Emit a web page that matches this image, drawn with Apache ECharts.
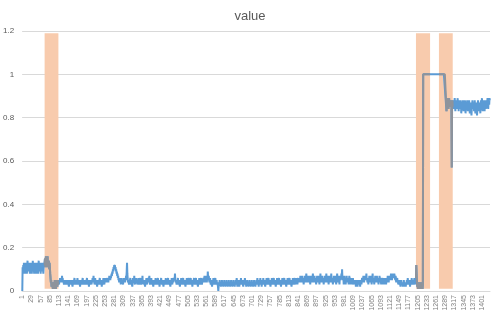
<!DOCTYPE html>
<html><head><meta charset="utf-8">
<script src="https://cdn.jsdelivr.net/npm/echarts@6/dist/echarts.min.js"></script>
<style>html,body{margin:0;padding:0;background:#fff}#c{width:500px;height:316px}</style>
</head><body><div id="c"></div>
<script>
// series values, one per category (category labels are 1..N)
const values = [
0,.11,.08,.12,.09,.13,.1,.12,.08,.11,.09,.13,.1,.12,.08,.11,.14,.09,.12,.1,
.13,.09,.11,.08,.12,.1,.13,.09,.11,.08,.12,.1,.14,.09,.11,.13,.08,.12,.1,.13,
.09,.11,.08,.12,.1,.13,.09,.12,.08,.11,.14,.1,.12,.09,.11,.13,.08,.12,.1,.11,
.09,.13,.1,.12,.08,.11,.13,.12,
.12,.15,.11,.14,.16,.12,.15,.11,.14,.16,.12,.14,
.11,.14,.1,.13,.11,.08,.06,.04,.05,.02,.04,.02,.03,.01,.04,
.02,.04,.01,.03,.05,.02,.04,.01,.03,.05,.02,.04,.02,.05,.03,.04,
.04,.03,.05,.04,.06,.04,.05,.04,.06,.05,.07,.05,.06,.04,.05,.04,.03,.05,.04,.04,
.03,.05,.04,.04,.03,.05,.04,.03,.05,.04,.04,.02,.04,.05,.03,.04,.05,.04,.03,.05,
.04,.04,.02,.04,.05,.03,.04,.04,.06,.04,.03,.05,.04,.03,.04,.05,.04,.06,.04,.03,
.04,.05,.03,.04,.04,.02,.04,.05,.04,.03,.05,.04,.04,.06,.04,.03,.04,.05,.03,.04,
.05,.04,.03,.05,.04,.04,.06,.04,.03,.04,.05,.04,.02,.04,.05,.04,.03,.05,.04,.04,
.03,.05,.04,.06,.04,.05,.07,.04,.05,.03,.04,.06,.04,.03,.05,.04,.04,.02,.04,.05,
.04,.03,.05,.04,.04,.06,.04,.03,.04,.05,.04,.02,.04,.05,.03,.04,.06,.04,.04,.03,
.05,.04,.06,.04,.05,.04,.06,.05,.04,.06,.05,.04,.06,.05,.07,.05,.06,.05,.07,.06,
.07,.08,.07,.09,.08,.1,.09,.11,.1,.12,.11,.12,.1,.11,.09,.1,.08,.09,.07,.08,
.06,.07,.05,.06,.04,.05,.06,.04,.05,.03,.05,.04,.06,.04,.05,.04,.03,.05,.04,.06,
.04,.05,.04,.06,.05,.07,.06,.09,.13,.08,.06,.04,.05,.04,.03,.05,.04,.04,.06,.04,
.03,.05,.04,.04,.02,.04,.06,.04,.05,.04,.07,.04,.03,.05,.04,.04,.06,.04,.05,.03,
.04,.05,.04,.06,.04,.03,.05,.04,.04,.06,.04,.03,.04,.05,.04,.07,.04,.05,.03,.04,
.05,.04,.04,.02,.04,.05,.04,.06,.04,.03,.05,.04,.04,.06,.04,.05,.07,.04,.03,.05,
.04,.04,.06,.04,.03,.05,.04,.04,.02,.04,.05,.04,.03,.05,.04,.06,.04,.04,.03,.05,
.04,.04,.06,.04,.03,.05,.04,.02,.04,.05,.04,.04,.06,.04,.03,.04,.05,.04,.04,.02,
.04,.05,.04,.03,.05,.04,.06,.04,.04,.03,.05,.04,.04,.06,.04,.03,.04,.05,.04,.04,
.02,.04,.05,.04,.06,.04,.03,.05,.04,.04,.06,.05,.06,.05,.08,.05,.04,.05,.04,.03,
.05,.04,.04,.06,.04,.03,.05,.04,.04,.02,.04,.05,.04,.06,.04,.03,.05,.04,.04,.06,
.04,.03,.04,.05,.04,.04,.02,.04,.05,.04,.06,.04,.03,.05,.04,.04,.06,.04,.03,.05,
.04,.04,.06,.04,.03,.05,.04,.02,.04,.05,.04,.04,.06,.04,.03,.05,.04,.04,.06,.04,
.03,.05,.04,.04,.02,.04,.05,.04,.06,.04,.03,.05,.04,.04,.06,.04,.03,.04,.05,.04,
.04,.06,.04,.05,.07,.05,.04,.06,.05,.07,.05,.04,.06,.05,.09,.06,.05,.07,.05,.04,
.04,.06,.04,.03,.05,.04,.04,.02,.04,.05,.04,.06,.04,.03,.05,.04,.04,.06,.04,.03,
.04,.05,.03,.04,.04,.02,0,.02,.04,.03,.05,.03,.04,.04,.02,.04,.03,.05,.03,.04,
.04,.02,.04,.03,.05,.03,.04,.04,.02,.04,.03,.05,.03,.04,.04,.02,.04,.03,.05,.03,
.04,.04,.02,.04,.03,.05,.03,.04,.04,.02,.04,.03,.05,.03,.04,.04,.02,.04,.03,.05,
.03,.04,.06,.04,.02,.04,.03,.05,.04,.04,.02,.04,.05,.03,.04,.06,.04,.03,.05,.03,
.04,.04,.02,.04,.05,.03,.04,.06,.04,.03,.04,.02,.04,.03,.05,.03,.04,.04,.02,.04,
.03,.05,.03,.04,.04,.02,.04,.03,.05,.03,.04,.04,.02,.04,.03,.05,.03,.04,.04,.02,
.04,.03,.05,.03,.04,.06,.04,.03,.04,.02,.04,.05,.03,.04,.06,.04,.03,.04,.02,.04,
.05,.03,.04,.06,.04,.03,.05,.04,.04,.02,.04,.05,.04,.06,.04,.03,.05,.04,.04,.06,
.04,.03,.05,.04,.04,.02,.04,.05,.04,.06,.04,.03,.05,.04,.04,.06,.04,.03,.05,.04,
.04,.02,.04,.05,.04,.06,.04,.03,.05,.04,.04,.06,.04,.03,.05,.04,.04,.02,.04,.05,
.04,.06,.04,.03,.05,.04,.04,.06,.04,.03,.05,.04,.04,.02,.04,.05,.04,.06,.04,.03,
.05,.04,.04,.06,.04,.03,.05,.04,.04,.02,.04,.05,.04,.06,.04,.03,.05,.04,.04,.06,
.04,.03,.05,.04,.06,.04,.05,.03,.05,.06,.04,.06,.05,.04,.06,.05,.07,.05,.04,.06,
.05,.07,.05,.04,.06,.05,.03,.06,.05,.07,.05,.04,.06,.05,.08,.06,.04,.06,.05,.07,
.05,.04,.06,.05,.07,.05,.03,.06,.05,.07,.05,.04,.06,.05,.08,.05,.04,.06,.05,.07,
.05,.04,.06,.05,.03,.06,.05,.07,.05,.04,.06,.05,.07,.05,.03,.06,.05,.08,.05,.04,
.06,.05,.07,.05,.04,.06,.05,.03,.06,.05,.07,.05,.04,.06,.05,.08,.05,.04,.06,.05,
.07,.05,.03,.06,.05,.07,.05,.04,.06,.05,.08,.05,.04,.06,.05,.03,.06,.05,.07,.05,
.04,.06,.05,.07,.05,.03,.06,.05,.08,.05,.04,.06,.05,.07,.05,.03,.06,.05,.07,.05,
.06,.08,.06,.1,.06,.07,.05,.06,.03,.05,.07,.04,.06,.05,.03,.06,.05,.07,.04,.05,
.06,.04,.06,.03,.05,.07,.04,.06,.05,.03,.06,.04,.06,.03,.05,.04,.06,.04,.03,.05,
.04,.05,.03,.05,.04,.02,.04,.03,.05,.04,.02,.04,.03,.05,.04,.05,.03,.04,.02,.05,
.04,.05,.03,.05,.06,.04,.06,.05,.07,.05,.04,.06,.05,.07,.05,.06,.05,.08,.05,.06,
.04,.06,.05,.03,.06,.05,.07,.05,.04,.06,.05,.07,.05,.03,.06,.05,.08,.05,.04,.06,
.05,.03,.06,.05,.07,.05,.04,.06,.05,.07,.05,.04,.06,.05,.03,.06,.05,.07,.05,.04,
.06,.05,.03,.05,.04,.06,.05,.03,.05,.04,.06,.04,.05,.03,.06,.04,.05,.03,.05,.04,
.06,.05,.07,.05,.06,.04,.07,.05,.06,.05,.07,.06,.08,.06,.07,.05,.08,.06,.07,.06,
.08,.06,.08,.07,.06,.05,.07,.05,.04,.06,.05,.06,.04,.05,.03,.05,.04,.03,.05,.04,
.04,.02,.04,.05,.03,.04,.03,.04,.02,.04,.03,.05,.03,.04,.02,.04,.03,.02,.04,.03,
.05,.03,.04,.06,.04,.03,.04,.05,.03,.04,.02,.04,.05,.03,.04,.06,.04,.03,.05,.04,
.03,.05,.04,.06,.04,.03,.05,.04,
.06,.12,.08,.04,.02,.04,.01,.03,.02,.04,.01,.03,.02,.04,.02,.03,.01,.04,.02,.03,.01,.03,
1,1,1,1,1,1,1,1,1,1,1,1,1,1,1,1,1,1,1,1,
1,1,1,1,1,1,1,1,1,1,1,1,1,1,1,1,1,1,1,1,
1,1,1,1,1,1,1,1,1,1,1,1,1,1,1,1,1,1,1,1,
1,1,1,1,1,1,1,1,1,1,1,
.83,.87,.85,.89,.86,.88,.84,.87,.89,.85,.88,.86,.87,.85,.88,.86,.57,.86,.88,.85,
.87,.85,.88,.84,.87,.89,.86,.83,.87,.85,.88,.86,.84,.87,.89,.85,.87,.83,.86,.88,
.85,.87,.84,.88,.86,.82,.85,.87,.84,.86,.88,.85,.83,.86,.87,.84,.88,.86,.82,.85,
.87,.84,.86,.88,.85,.83,.87,.86,.84,.88,.85,.82,.86,.84,.87,.85,.81,.84,.86,.88,
.85,.87,.84,.86,.83,.85,.88,.84,.82,.86,.85,.87,.83,.81,.84,.86,.88,.85,.83,.86,
.84,.87,.85,.82,.86,.88,.84,.86,.89,.85,.83,.86,.88,.84,.87,.85,.83,.86,.88,.87,
.84,.86,.88,.85,.87,.89,.86,.84,.87,.88,.86,.89,.88
];
// highlighted (anomaly) category ranges, by category label
const bands = [[69, 111], [1200, 1243], [1270, 1312]];
const bandBottom = 0.01, bandTop = 1.19;
const yMin = 0, yMax = 1.2, yStep = 0.2;
const labelStep = 28;
const titleText = 'value';

const categories = values.map((v, i) => String(i + 1));
const inBand = i => bands.some(b => i + 1 >= b[0] && i + 1 <= b[1]);
const anomaly = values.map((v, i) => inBand(i) ? v : null);

const chart = echarts.init(document.getElementById('c'), null, {renderer: 'canvas'});
chart.setOption({
  animation: false,
  textStyle: {fontFamily: 'Liberation Sans, Arial, sans-serif'},
  title: {text: titleText, left: 'center', top: 5,
    textStyle: {fontSize: 13, fontWeight: 'normal', color: '#595959'}},
  grid: {left: 21, right: 10, top: 31, bottom: 25, containLabel: false},
  xAxis: {
    type: 'category', data: categories, boundaryGap: true,
    axisLine: {lineStyle: {color: '#d9d9d9'}},
    axisTick: {show: false},
    axisLabel: {interval: labelStep - 1, rotate: 90, fontSize: 7, color: '#7f7f7f', margin: 4}
  },
  yAxis: {
    type: 'value', min: yMin, max: yMax, interval: yStep,
    axisLine: {show: false}, axisTick: {show: false},
    axisLabel: {fontSize: 8, color: '#595959', margin: 8},
    splitLine: {lineStyle: {color: '#d9d9d9'}}
  },
  series: [
    {type: 'line', data: values, symbol: 'none', z: 3,
      lineStyle: {color: '#5B9BD5', width: 2}, itemStyle: {color: '#5B9BD5'},
      markArea: {silent: true, itemStyle: {color: '#F8CBAD'},
        data: bands.map(b => [{xAxis: String(b[0]), yAxis: bandBottom}, {xAxis: String(b[1]), yAxis: bandTop}])}},
    {type: 'line', data: anomaly, symbol: 'none', z: 4, connectNulls: false,
      lineStyle: {color: '#8E939B', width: 2}, itemStyle: {color: '#8E939B'}}
  ]
});
</script></body></html>
